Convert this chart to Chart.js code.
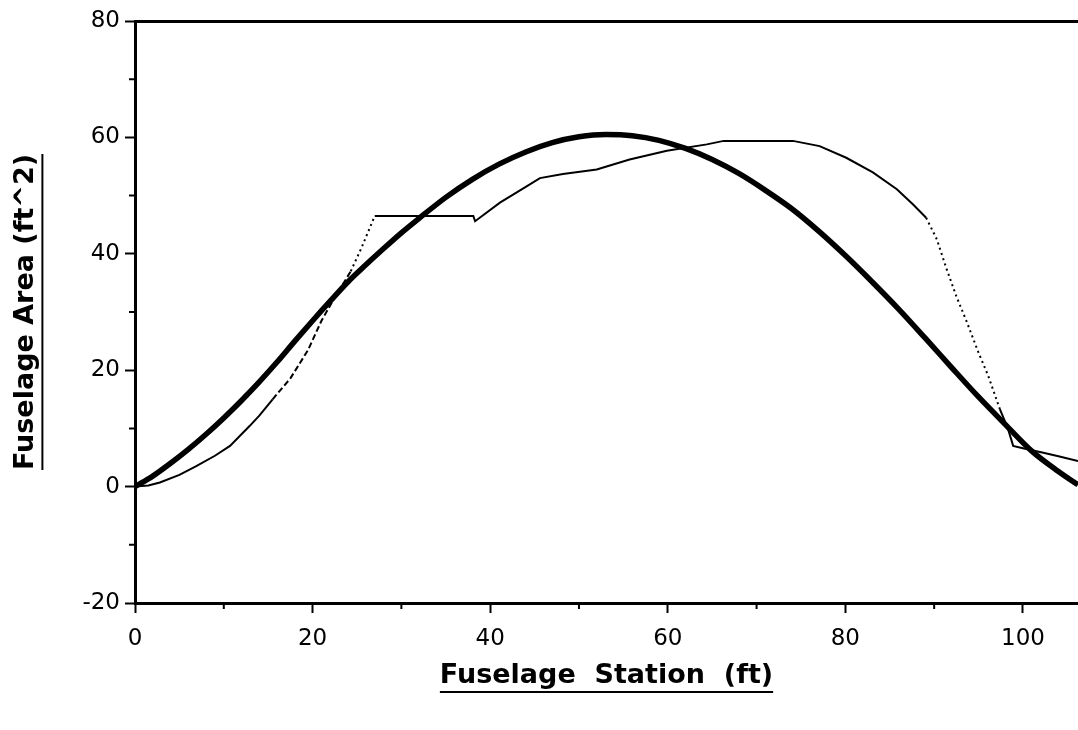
<!DOCTYPE html>
<html>
<head>
<meta charset="utf-8">
<title>Fuselage Area Distribution</title>
<script src="https://cdn.jsdelivr.net/npm/chart.js@4.4.1/dist/chart.umd.min.js"></script>
<style>
  html,body{margin:0;padding:0;background:#fff;}
  #wrap{width:1078px;height:730px;position:relative;}
</style>
</head>
<body>
<div id="wrap"><canvas id="area-chart"></canvas></div>
<script>
/* Fuselage area vs station: ideal (thick) and actual (thin) distributions */
// axis ticks
const xTicks=[0,20,40,60,80,100];
const xMinor=[10,30,50,70,90];
const yTicks=[-20,0,20,40,60,80];
const yMinor=[-10,10,30,50,70];

// ideal smooth distribution
const idealX=[0,2,4,6,8,10,12,14,16,18,20,22,24,26,28,30,32,35,38,41,44,47,50,53,56,59,62,65,68,71,74,77,80,83,86,89,92,95,98,101,104,106.2];
const idealY=[0,1.8,4,6.4,9,11.8,14.8,18,21.4,25,28.5,31.9,35.2,38.1,40.9,43.6,46.1,49.7,52.8,55.4,57.5,59.1,60.1,60.5,60.3,59.5,58.1,56.2,53.8,50.9,47.7,43.9,39.7,35.2,30.5,25.5,20.4,15.4,10.7,6.1,2.6,0.3];

// actual distribution, split by line style
const nosePartX=[0,1.5,2.8,5,6.9,9,10.7,12.9,14,15.5];
const nosePartY=[0,0.2,0.7,2,3.5,5.3,7,10.4,12.2,15];
const dashPartX=[15.5,17.5,19.5,21,22.5,24.3];
const dashPartY=[15,18.6,23.5,28.5,32.5,37];
const rampPartX=[24.3,25.5,27];
const rampPartY=[37,41,46.5];
const midPartX=[27,38.1,38.3,41.1,44.1,45.6,48.2,52,55.7,59.9,64.4,66.3,74.1,77.1,80.1,83.1,85.8,87.6,89.1];
const midPartY=[46.5,46.5,45.6,48.8,51.6,53,53.7,54.5,56.2,57.7,58.8,59.4,59.4,58.5,56.5,54,51.1,48.5,46.2];
const dropPartX=[89.1,90.3,91.4,92.5,93.7,95,96.1,97.4];
const dropPartY=[46.2,42.5,37.4,32.7,28.2,23,19,13.3];
const tailPartX=[97.4,98.3,98.9,100,102.3,104,106.2];
const tailPartY=[13.3,10,7,6.6,5.8,5.2,4.4];

function pts(xs,ys){return xs.map(function(x,i){return{x:x,y:ys[i]};});}

const tickFont={family:'DejaVu Sans',size:23};
const titleSize=27;
const titleFont={family:'DejaVu Sans',size:titleSize,weight:'bold'};

const thin=function(xs,ys,dash){
  return{data:pts(xs,ys),borderColor:'#000',borderWidth:2,borderDash:dash,pointRadius:0,tension:0,fill:false};
};

const minorTicks={
  id:'minorTicks',
  afterDraw:function(chart){
    const c=chart.ctx,xs=chart.scales.x,ys=chart.scales.y,a=chart.chartArea;
    c.save();c.strokeStyle='#000';c.lineWidth=2;c.beginPath();
    yMinor.forEach(function(v){const p=ys.getPixelForValue(v);c.moveTo(a.left-6,p);c.lineTo(a.left,p);});
    xMinor.forEach(function(v){const p=xs.getPixelForValue(v);c.moveTo(p,a.bottom);c.lineTo(p,a.bottom+6);});
    c.stroke();
    // underline the axis titles
    c.font='bold '+titleSize+'px "DejaVu Sans"';
    const half=titleSize*0.6,under=titleSize*0.6;
    const tx=xs.options.title.text,wx=c.measureText(tx).width;
    const cx=(xs.left+xs.right)/2,lyx=xs.bottom-half-xs.options.title.padding.bottom+under;
    c.lineWidth=2;c.beginPath();c.moveTo(cx-wx/2,lyx);c.lineTo(cx+wx/2,lyx);
    const ty=ys.options.title.text,wy=c.measureText(ty).width;
    const cy=(ys.top+ys.bottom)/2,lxy=ys.left+half+ys.options.title.padding.top+under;
    c.moveTo(lxy,cy-wy/2);c.lineTo(lxy,cy+wy/2);
    c.stroke();c.restore();
  }
};

new Chart(document.getElementById('area-chart'),{
  type:'line',
  data:{datasets:[
    {data:pts(idealX,idealY),borderColor:'#000',borderWidth:5.5,pointRadius:0,cubicInterpolationMode:'monotone',fill:false},
    thin(nosePartX,nosePartY,[]),
    thin(dashPartX,dashPartY,[6,3]),
    thin(rampPartX,rampPartY,[2,3.5]),
    thin(midPartX,midPartY,[]),
    thin(dropPartX,dropPartY,[2,3.5]),
    thin(tailPartX,tailPartY,[])
  ]},
  options:{
    responsive:true,maintainAspectRatio:false,animation:false,
    layout:{padding:{top:21,left:0,right:0,bottom:0}},
    plugins:{legend:{display:false},tooltip:{enabled:false}},
    scales:{
      x:{type:'linear',min:0,max:106.2,
        afterBuildTicks:function(s){s.ticks=xTicks.map(function(v){return{value:v};});},
        afterFit:function(s){s.height=127;s.paddingLeft=0;s.paddingRight=0;},
        border:{display:true,color:'#000',width:3},
        grid:{drawOnChartArea:false,drawTicks:true,tickLength:10,tickColor:'#000',tickWidth:2},
        ticks:{color:'#000',font:tickFont,padding:12,maxRotation:0},
        title:{display:true,text:'Fuselage  Station  (ft)',color:'#000',font:titleFont,padding:{top:0,bottom:38}}
      },
      y:{min:-20,max:80,
        afterBuildTicks:function(s){s.ticks=yTicks.map(function(v){return{value:v};});},
        afterFit:function(s){s.width=135;s.paddingTop=0;s.paddingBottom=0;},
        border:{display:true,color:'#000',width:3},
        grid:{drawOnChartArea:true,drawTicks:true,tickLength:10,tickColor:'#000',tickWidth:2,
          color:function(ctx){return ctx.tick&&ctx.tick.value===80?'#000':'rgba(0,0,0,0)';},
          lineWidth:function(ctx){return ctx.tick&&ctx.tick.value===80?3:1;}},
        ticks:{color:'#000',font:tickFont,padding:5},
        title:{display:true,text:'Fuselage Area (ft^2)',color:'#000',font:titleFont,padding:{top:10,bottom:0}}
      }
    }
  },
  plugins:[minorTicks]
});
</script>
</body>
</html>
